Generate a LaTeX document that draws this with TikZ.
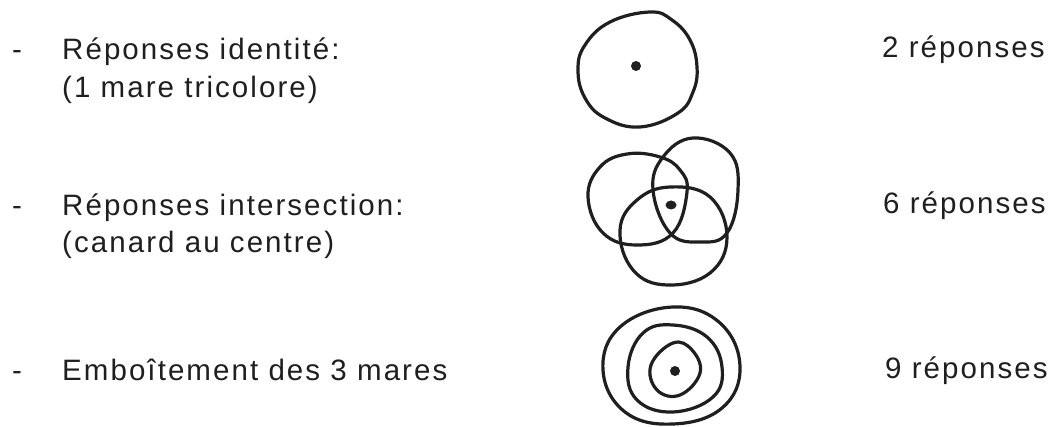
\documentclass[tikz,border=0pt]{standalone}
\usepackage{fontspec}
\setmainfont{Liberation Sans}[LetterSpace=7]
\begin{document}
\begin{tikzpicture}[x=1pt,y=-1pt,
  lbl/.style={anchor=base west,inner sep=0pt,font=\fontsize{29.5}{33}\selectfont,text=black!88},
  mare/.style={draw=black!88,line width=3.2pt,line join=round},
  dot/.style={fill=black!88}]
\useasboundingbox (0,0) rectangle (1051,427);
% texts
\node[lbl] (d1) at (12,60) {-};
\node[lbl] (t1a) at (62,60) {Réponses identité:};
\node[lbl] (t1b) at (62,98) {(1 mare tricolore)};
\node[lbl] (r1) at (882,58) {2 réponses};
\node[lbl] (d2) at (12,216) {-};
\node[lbl] (t2a) at (62,216) {Réponses intersection:};
\node[lbl] (t2b) at (62,253) {(canard au centre)};
\node[lbl] (r2) at (883,214) {6 réponses};
\node[lbl] (d3) at (12,380) {-};
\node[lbl] (t3) at (62,380) {Emboîtement des 3 mares};
\node[lbl] (r3) at (885,378) {9 réponses};
% identity
\draw[mare] plot[smooth cycle,tension=0.7] coordinates {(650,12) (672,20) (690,40) (697,67) (693,92) (678,113) (640,127) (605,118) (585,98) (578,70) (585,45) (610,22)};
\fill[dot] (636,66) circle (5);
% intersection
\draw[mare] plot[smooth cycle,tension=0.7] coordinates {(627,154) (660,157) (680,170) (687,192) (673,233) (637,245) (603,233) (588,197) (600,167)};
\draw[mare] plot[smooth cycle,tension=0.7] coordinates {(693,138) (730,153) (738,190) (727,233) (700,242) (670,233) (653,190) (663,157)};
\draw[mare] plot[smooth cycle,tension=0.7] coordinates {(670,187) (710,197) (727,237) (710,273) (667,285) (633,270) (620,230) (637,200)};
\fill[dot] (671,205) ellipse (5.5 and 4.5);
% nested
\draw[mare] plot[smooth cycle,tension=0.7] coordinates {(673,307) (720,323) (740,367) (722,408) (673,424) (625,412) (603,370) (620,327)};
\draw[mare] plot[smooth cycle,tension=0.7] coordinates {(673,325) (707,337) (722,367) (713,397) (673,412) (637,400) (628,367) (643,333)};
\draw[mare] plot[smooth cycle,tension=0.7] coordinates {(673,343) (692,350) (700,373) (680,395) (657,390) (651,365)};
\fill[dot] (675,371) circle (5);
\end{tikzpicture}
\end{document}
